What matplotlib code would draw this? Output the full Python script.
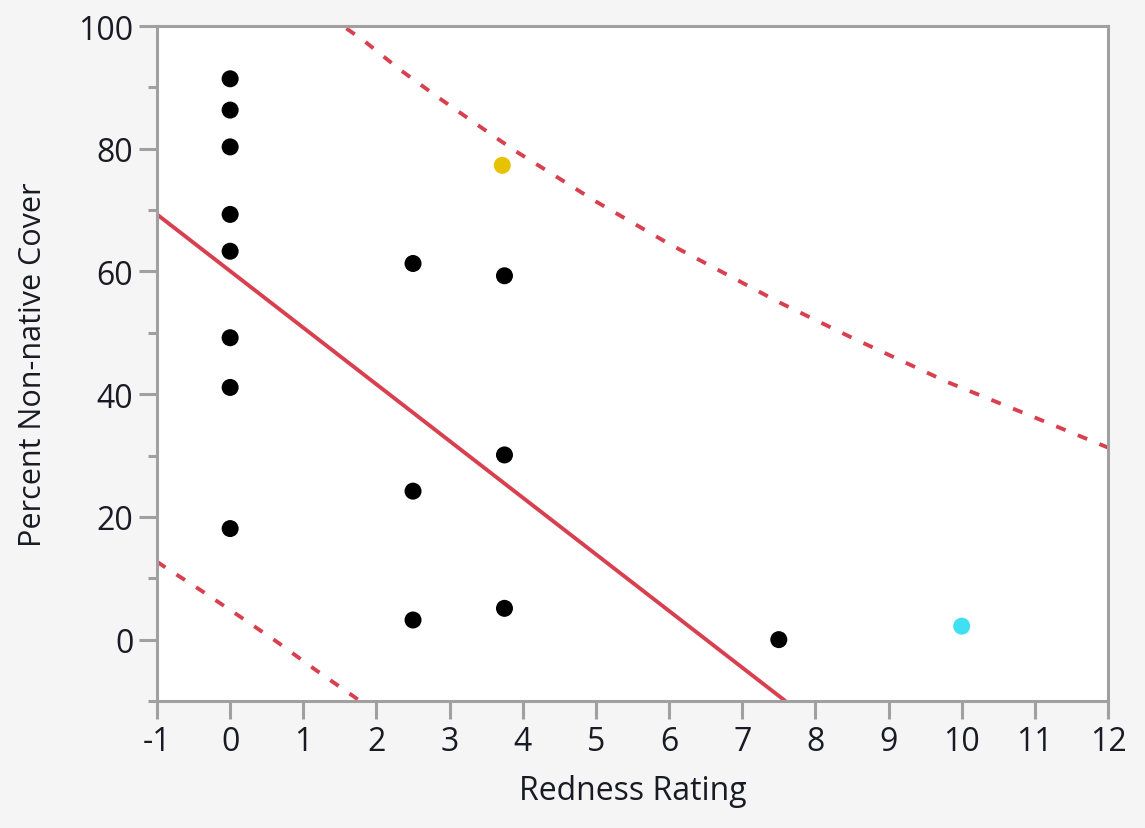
import matplotlib
matplotlib.use("Agg")
import matplotlib.pyplot as plt
import numpy as np

# ---- data ----
redness = [0, 0, 0, 0, 0, 0, 0, 0,
           2.5, 2.5, 2.5,
           3.75, 3.75, 3.75,
           3.72, 7.5, 10.0]
cover = [91.4, 86.3, 80.3, 69.3, 63.3, 49.2, 41.1, 18.1,
         61.3, 24.2, 3.2,
         59.3, 30.1, 5.1,
         77.3, 0.0, 2.2]
point_colors = ["black"] * 14 + ["#E6C200", "black", "#3FE0F2"]

# fitted line (read endpoints)
fit_x = [-1.0, 7.59]
fit_y = [69.3, -10.0]

# upper and lower dashed bands
upper_x = [1.59, 1.84, 2.32, 2.84, 3.38, 3.89, 4.40, 5.0, 6.0, 7.5, 8.5, 9.80, 10.38, 10.98, 11.57, 12.0]
upper_y = [99.6, 97.5, 92.9, 88.4, 83.9, 79.7, 75.9, 71.4, 64.5, 55.0, 49.2, 42.0, 39.2, 36.3, 33.4, 31.3]
lower_x = [-1.0, -0.926, -0.402, 0.122, 0.642, 1.158, 1.682, 1.82]
lower_y = [12.7, 12.1, 8.05, 3.86, -0.38, -4.85, -9.2, -10.4]

x_ticks = list(range(-1, 13))
y_ticks = [0, 20, 40, 60, 80, 100]

# ---- style ----
red = "#D8404F"
gray = "#A0A0A0"
txt = "#1A1A24"
plt.rcParams["font.family"] = ["Open Sans", "DejaVu Sans"]

fig = plt.figure(figsize=(11.45, 8.29), dpi=100, facecolor="#F5F5F5")
ax = fig.add_axes([0.1371, 0.1532, 0.9677 - 0.1371, 0.9674 - 0.1532])
ax.set_facecolor("white")

ax.plot(fit_x, fit_y, color=red, lw=2.8, solid_capstyle="butt", zorder=2)
ax.plot(upper_x, upper_y, color=red, lw=2.8, dashes=(2.6, 3.4), zorder=2)
ax.plot(lower_x, lower_y, color=red, lw=2.8, dashes=(2.6, 3.4), zorder=2)

ax.scatter(redness, cover, s=150, c=point_colors, edgecolors="none", zorder=3)

ax.set_xlim(-1, 12)
ax.set_ylim(-10, 100)
ax.set_xticks(x_ticks)
ax.set_xticklabels([str(v) for v in x_ticks])
ax.set_yticks(y_ticks)
ax.set_yticks([-10, 10, 30, 50, 70, 90], minor=True)

for s in ax.spines.values():
    s.set_color(gray)
    s.set_linewidth(2.2)

ax.tick_params(axis="both", which="major", length=13, width=2.2, color=gray,
               labelsize=23, labelcolor=txt, pad=4)
ax.tick_params(axis="y", which="minor", length=6.5, width=2.2, color=gray)

ax.set_xlabel("Redness Rating", fontsize=23, color=txt, labelpad=12)
ax.set_ylabel("Percent Non-native Cover", fontsize=22, color=txt, labelpad=22)

fig.savefig("out.png", dpi=100, facecolor=fig.get_facecolor())
